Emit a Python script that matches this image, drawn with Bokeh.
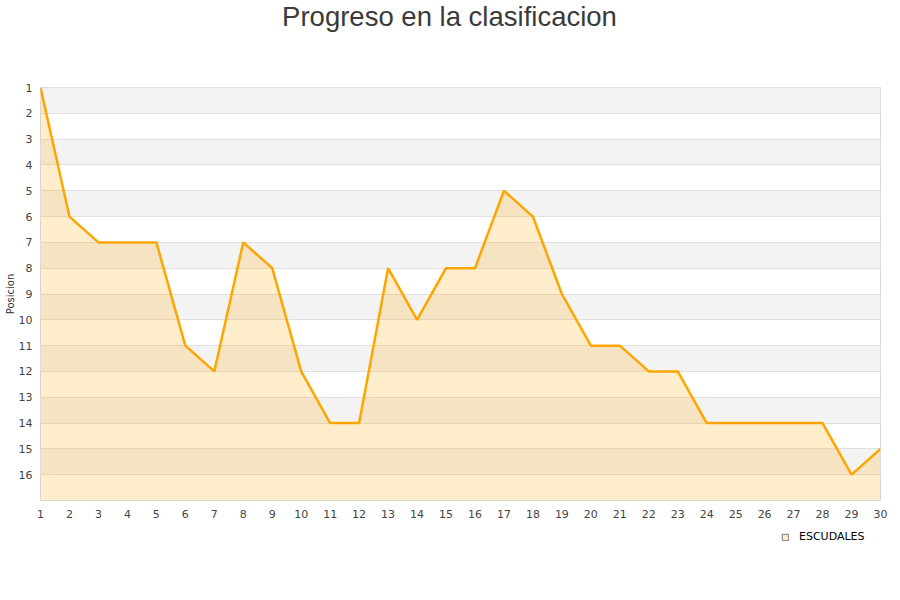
from bokeh.plotting import figure
from bokeh.layouts import column
from bokeh.models import Range1d, FixedTicker, BoxAnnotation, Legend, LegendItem, Label
from bokeh.embed import file_html
from bokeh.resources import INLINE

# datos: posicion del equipo en cada jornada
jornadas = list(range(1, 31))
posiciones = [1, 6, 7, 7, 7, 11, 12, 7, 8, 12, 14, 14, 8, 10, 8, 8, 5, 6, 9, 11,
              11, 12, 12, 14, 14, 14, 14, 14, 16, 15]
equipo = "ESCUDALES"
titulo = "Progreso en la clasificacion"
y_ticks = list(range(1, 17))
fondo = 17  # limite inferior del eje (posicion)

# franja del titulo (el marco queda alineado con el del grafico: x 40..880)
t = figure(width=892, height=40, x_range=Range1d(0, 840), y_range=Range1d(0, 40),
           output_backend="svg", toolbar_location=None, min_border=0,
           outline_line_color=None, x_axis_location=None, y_axis_location=None)
t.grid.visible = False
t.add_layout(Label(x=409, y=24, text=titulo, text_align="center", text_baseline="alphabetic",
                   text_font="Liberation Sans", text_font_size="27.5px", text_color="#3a3a3a"))

p = figure(
    width=892, height=485,
    x_range=Range1d(1, 30), y_range=Range1d(fondo, 1),
    output_backend="svg", toolbar_location=None,
    min_border_left=40, min_border_right=12, min_border_top=47, min_border_bottom=25,
)

p.outline_line_color = "#d8d8d8"
p.background_fill_color = "white"

# bandas alternas
for k in y_ticks[::2]:
    p.add_layout(BoxAnnotation(top=k, bottom=k + 1, fill_color="#f3f3f3", fill_alpha=1,
                               line_color=None, level="image"))

p.xgrid.grid_line_color = None
p.ygrid.ticker = FixedTicker(ticks=y_ticks)
p.ygrid.grid_line_color = "#e0e0e0"

p.varea(x=jornadas, y1=posiciones, y2=[fondo] * len(jornadas),
        fill_color="orange", fill_alpha=0.2)
p.line(jornadas, posiciones, line_color="orange", line_width=2.5)

for ax in (p.xaxis[0], p.yaxis[0]):
    ax.axis_line_color = None
    ax.major_tick_line_color = None
    ax.minor_tick_line_color = None
    ax.major_tick_out = 0
    ax.major_tick_in = 0
    ax.minor_tick_out = 0
    ax.major_label_text_font = "DejaVu Sans"
    ax.major_label_text_font_size = "11px"
    ax.major_label_text_color = "#444444"

p.xaxis.ticker = FixedTicker(ticks=jornadas)
p.xaxis.major_label_standoff = 9
p.yaxis.ticker = FixedTicker(ticks=y_ticks)
p.yaxis.major_label_standoff = 8
p.yaxis.axis_label = "Posicion"
p.yaxis.axis_label_text_font = "DejaVu Sans"
p.yaxis.axis_label_text_font_size = "10px"
p.yaxis.axis_label_text_font_style = "normal"
p.yaxis.axis_label_text_color = "#333333"
p.yaxis.axis_label_standoff = 0

# leyenda en una franja aparte bajo el grafico
q = figure(width=892, height=50, x_range=Range1d(0, 1), y_range=Range1d(0, 1),
           output_backend="svg", toolbar_location=None, min_border=0,
           outline_line_color=None, x_axis_location=None, y_axis_location=None)
q.grid.visible = False
muestra = q.quad(left=[5], right=[6], bottom=[5], top=[6], fill_color="#fdebc8",
                 line_color="#777777", line_width=1)
legend = Legend(items=[LegendItem(label=equipo, renderers=[muestra])],
                location=(741, 32), orientation="horizontal",
                border_line_color=None, background_fill_alpha=0,
                label_text_font="DejaVu Sans", label_text_font_size="11px",
                label_text_color="#000000",
                glyph_width=8, glyph_height=8, label_standoff=10,
                padding=3, margin=0)
q.add_layout(legend, "center")

open("out.html", "w").write(file_html(column(t, p, q, spacing=0), INLINE))
